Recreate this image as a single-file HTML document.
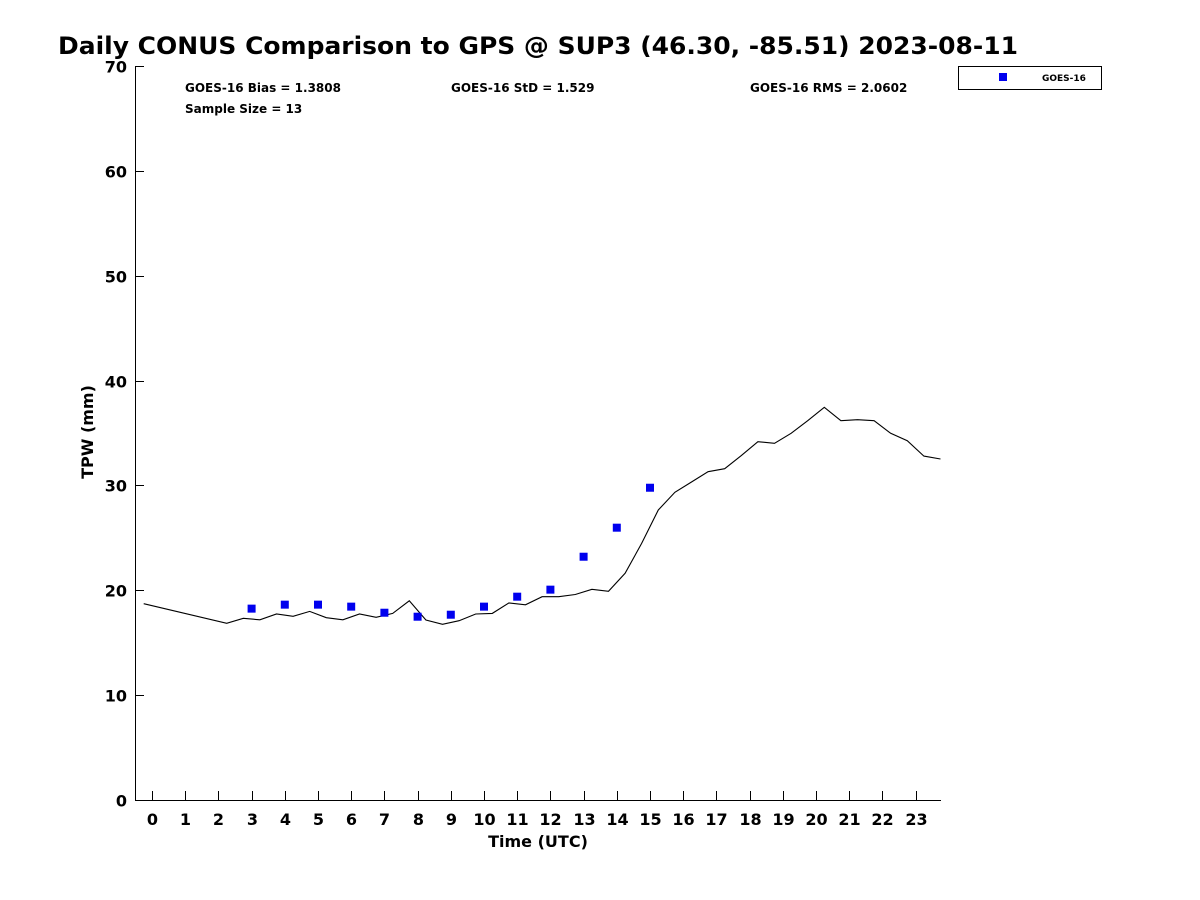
<!DOCTYPE html>
<html><head><meta charset="utf-8"><style>html,body{margin:0;background:#fff}svg{display:block}text{font-family:"DejaVu Sans","Liberation Sans",sans-serif;font-weight:bold;fill:#000}</style></head>
<body>
<svg id="chart" width="1200" height="900" xmlns="http://www.w3.org/2000/svg">
<text x="58" y="54" font-size="24" textLength="960" lengthAdjust="spacingAndGlyphs">Daily CONUS Comparison to GPS @ SUP3 (46.30, -85.51) 2023-08-11</text>
<text x="185" y="92" font-size="12">GOES-16 Bias = 1.3808</text>
<text x="185" y="113" font-size="12">Sample Size = 13</text>
<text x="451" y="92" font-size="12">GOES-16 StD = 1.529</text>
<text x="750" y="92" font-size="12">GOES-16 RMS = 2.0602</text>
<g>
<rect x="958.5" y="66.5" width="143" height="23" fill="#fff" stroke="#000" stroke-width="1"/>
<rect x="999" y="73" width="8" height="8" fill="#0000ee"/>
<text x="1042" y="81" font-size="9">GOES-16</text>
</g>
<g id="axes"></g>
<g id="marks"></g>
<text x="538" y="847" font-size="16" text-anchor="middle">Time (UTC)</text>
<text transform="translate(93,432) rotate(-90)" font-size="16" text-anchor="middle">TPW (mm)</text>
</svg>
<script>
const gpsHours=[-0.25,2.25,2.75,3.25,3.75,4.25,4.75,5.25,5.75,6.25,6.75,7.25,7.75,8.25,8.75,9.25,9.75,10.25,10.75,11.25,11.75,12.25,12.75,13.25,13.75,14.25,14.75,15.25,15.75,16.25,16.75,17.25,17.75,18.25,18.75,19.25,19.75,20.25,20.75,21.25,21.75,22.25,22.75,23.25,23.75];
const gpsTpw=[18.72,16.85,17.33,17.19,17.74,17.52,17.99,17.39,17.19,17.74,17.42,17.8,19.0,17.17,16.76,17.1,17.74,17.8,18.8,18.62,19.39,19.39,19.6,20.09,19.9,21.62,24.48,27.66,29.34,30.33,31.31,31.6,32.84,34.17,34.02,34.97,36.17,37.45,36.17,36.27,36.17,34.97,34.27,32.8,32.52];
const goesHours=[3,4,5,6,7,8,9,10,11,12,13,14,15];
const goesTpw=[18.25,18.63,18.63,18.44,17.86,17.48,17.67,18.44,19.39,20.06,23.2,25.97,29.78];
const yTicks=[0,10,20,30,40,50,60,70];
const xTicks=[0,1,2,3,4,5,6,7,8,9,10,11,12,13,14,15,16,17,18,19,20,21,22,23];
const NS='http://www.w3.org/2000/svg';
const L=135,R=941,T=66,B=800,X0=-0.512,X1=23.765,Y0=0,Y1=70;
const xs=h=>L+(h-X0)/(X1-X0)*(R-L);
const ys=v=>B-(v-Y0)/(Y1-Y0)*(B-T);
function mk(tag,attrs,parent){const e=document.createElementNS(NS,tag);for(const k in attrs)e.setAttribute(k,attrs[k]);parent.appendChild(e);return e;}
const axes=document.getElementById('axes'),marks=document.getElementById('marks');
const ax=mk('path',{d:`M${L+0.5},${T} V${B+0.5} H${R}`,fill:'none',stroke:'#000','stroke-width':1},axes);


yTicks.forEach(v=>{const y=Math.round(ys(v))+0.5;
const t=mk('line',{x1:L,x2:L+9,y1:y,y2:y,stroke:'#000'},axes);


const tx=mk('text',{x:L-8,y:y+6,'font-size':16,'text-anchor':'end'},axes);tx.textContent=v;

});
xTicks.forEach(h=>{const x=Math.round(xs(h))+0.5;
const t=mk('line',{x1:x,x2:x,y1:B,y2:B-9,stroke:'#000'},axes);


const tx=mk('text',{x:x,y:B+25,'font-size':16,'text-anchor':'middle'},axes);tx.textContent=h;

});
const pl=mk('polyline',{points:gpsHours.map((h,i)=>xs(h).toFixed(1)+','+ys(gpsTpw[i]).toFixed(1)).join(' '),fill:'none',stroke:'#000','stroke-width':1.1},marks);


goesHours.forEach((h,i)=>{const r=mk('rect',{x:xs(h)-4,y:ys(goesTpw[i])-4,width:8,height:8,fill:'#0000ee'},marks);

});
</script>
</body></html>
